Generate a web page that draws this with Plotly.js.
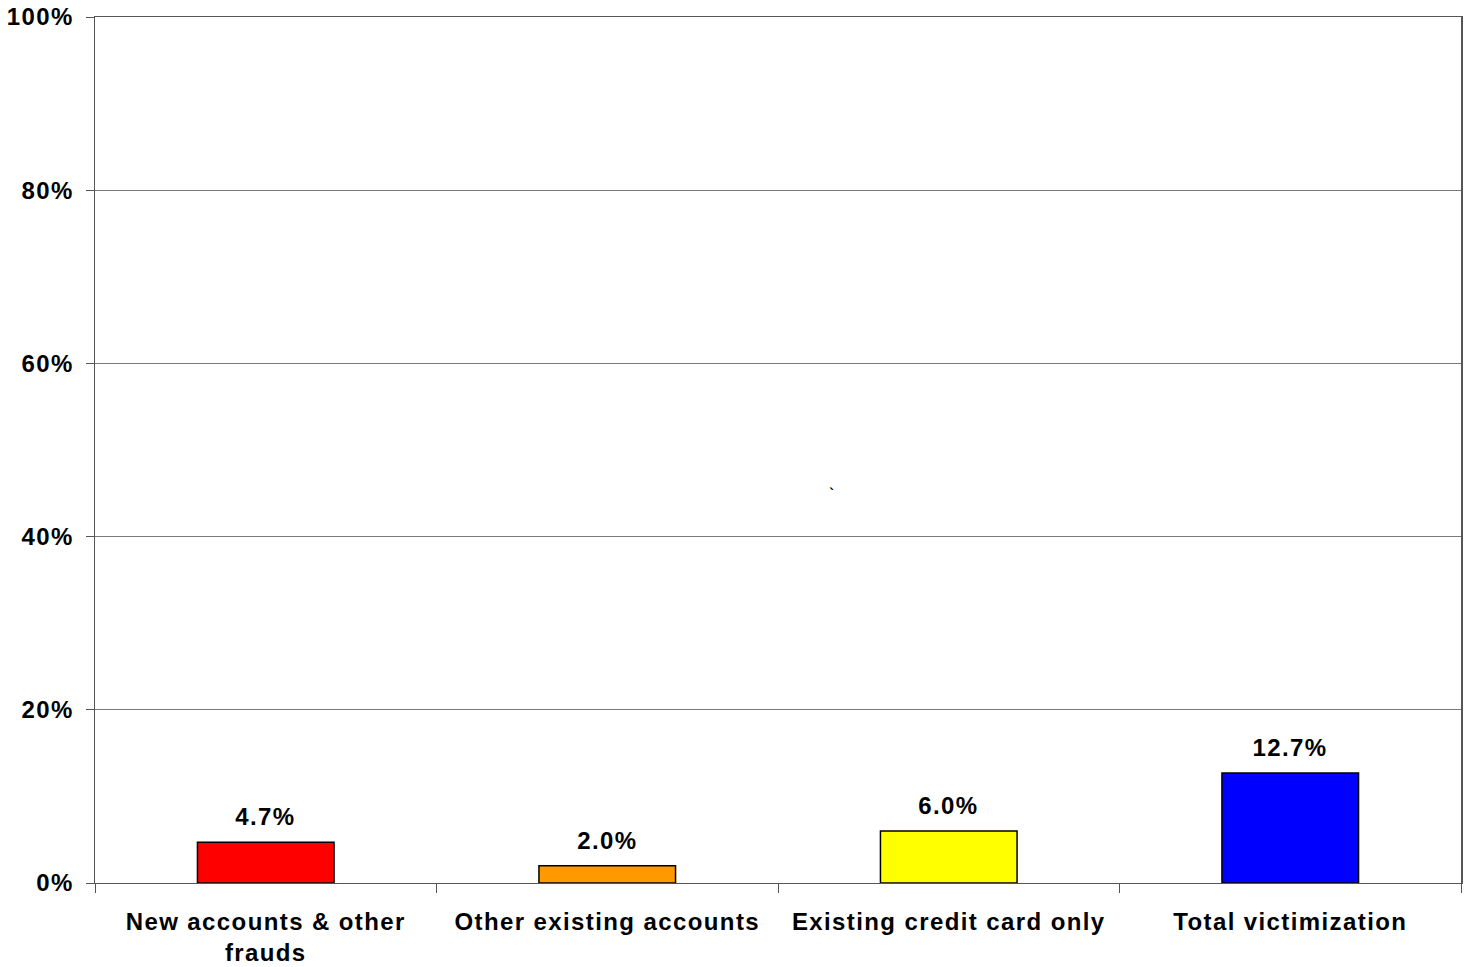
<!DOCTYPE html>
<html>
<head>
<meta charset="utf-8">
<script src="https://cdn.plot.ly/plotly-3.0.1.min.js"></script>
<style>
  html, body { margin: 0; padding: 0; background: #fff; }
  #chart { width: 1465px; height: 967px; }
  #chart svg text { letter-spacing: 1.4px; }
</style>
</head>
<body>
<div id="chart"></div>
<script>
const categories = ["New accounts & other<br>frauds", "Other existing accounts", "Existing credit card only", "Total victimization"];
const values = [4.7, 2.0, 6.0, 12.7];
const barColors = ["#FF0000", "#FF9900", "#FFFF00", "#0000FF"];
const yTickValues = [0, 20, 40, 60, 80, 100];
const yTickLabels = ["0%", "20%", "40%", "60%", "80%", "100%"];

const font = { family: "Liberation Sans, Arial, sans-serif", size: 24, color: "#000", weight: "bold" };

const trace = {
  type: "bar",
  x: categories,
  y: values,
  marker: { color: barColors, line: { color: "#000", width: 1.5 } },
  hoverinfo: "skip"
};

const annotations = values.map((v, i) => ({
  x: categories[i], y: v, xref: "x", yref: "y",
  text: v.toFixed(1) + "%",
  showarrow: false, yanchor: "bottom", yshift: 10,
  font: font
}));
annotations.push({
  x: 0.540, y: 0.449, xref: "paper", yref: "paper",
  text: "`", showarrow: false, font: { family: "Liberation Sans, Arial, sans-serif", size: 14, color: "#000" }
});

const layout = {
  width: 1465, height: 967,
  margin: { l: 95, r: 4, t: 17, b: 84 },
  paper_bgcolor: "#fff", plot_bgcolor: "#fff",
  showlegend: false,
  bargap: 0.6,
  font: font,
  xaxis: {
    type: "category",
    tickson: "boundaries",
    ticks: "outside", ticklen: 9, tickcolor: "#555", tickwidth: 1,
    showline: true, linecolor: "#555", linewidth: 1, mirror: true,
    showgrid: false, zeroline: false,
    tickfont: font,
    ticklabelstandoff: 17,
    fixedrange: true
  },
  yaxis: {
    range: [0, 100],
    tickvals: yTickValues, ticktext: yTickLabels,
    ticks: "outside", ticklen: 8, tickcolor: "#555", tickwidth: 1,
    showline: true, linecolor: "#555", linewidth: 1.5, mirror: true,
    showgrid: true, gridcolor: "#7a7a7a", gridwidth: 1,
    zeroline: false,
    tickfont: font,
    ticklabelstandoff: 7,
    fixedrange: true
  },
  annotations: annotations
};

Plotly.newPlot("chart", [trace], layout, { displayModeBar: false, staticPlot: true });
</script>
</body>
</html>
